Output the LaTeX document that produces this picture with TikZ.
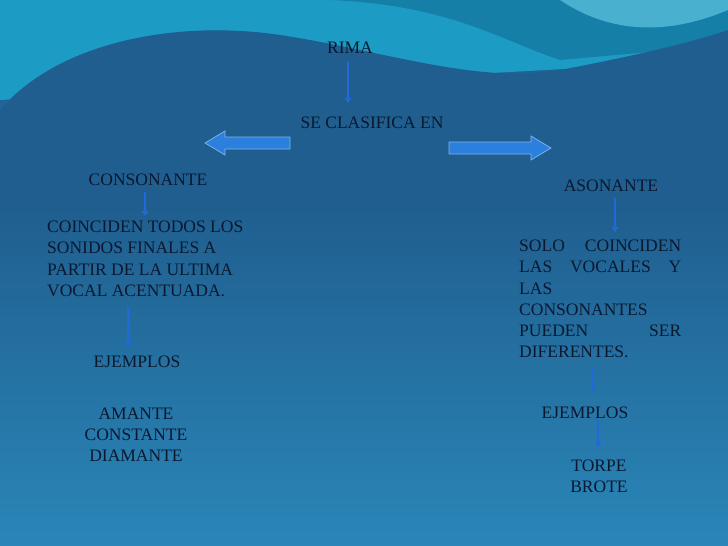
\documentclass[tikz,border=0pt]{standalone}
\usepackage{fontspec}
\setmainfont{Liberation Serif}
\usetikzlibrary{arrows.meta}
\definecolor{bgtop}{HTML}{1F5E8E}
\definecolor{bgbot}{HTML}{2A86B8}
\definecolor{teal1}{HTML}{1C9CC4}
\definecolor{teal2}{HTML}{157FA8}
\definecolor{ink}{HTML}{0A1830}
\definecolor{arr}{HTML}{1F6AD8}
\definecolor{blk}{HTML}{2A80DC}
\tikzset{x=1pt,y=-1pt,
  txt/.style={text=ink,font=\fontsize{17.5}{21.2}\selectfont,inner sep=0pt},
  va/.style={draw=arr,line width=2pt,-{Triangle[length=5pt,width=7pt]}},
  blockarrow/.style={fill=blk,draw=blk!60!white,line width=0.7pt}}
\newcommand{\jline}[1]{\makebox[162pt][s]{#1}}
\begin{document}
\begin{tikzpicture}
\useasboundingbox (0,0) rectangle (728,546);
\shade[top color=bgtop,bottom color=bgbot] (0,0) rectangle (728,546);
\fill[teal1] (0,0) -- (728,0) -- (728,60) -- (0,100) -- cycle;
\fill[teal2] (330,0) .. controls (450,5) and (500,40) .. (560,60) -- (728,45) -- (728,0) -- cycle;
\fill[teal1!80!white] (560,0) .. controls (620,40) and (680,30) .. (728,10) -- (728,0) -- cycle;
\fill[bgtop] (0,110) .. controls (60,40) and (180,20) .. (280,35) .. controls (380,50) and (480,85) .. (560,70) .. controls (640,55) and (700,40) .. (728,30) -- (728,546) -- (0,546) -- cycle;
\shade[top color=bgtop,bottom color=bgbot] (0,200) rectangle (728,546);
\fill[bgtop] (0,110) .. controls (40,150) and (600,150) .. (728,150) -- (728,201) -- (0,201) -- cycle;

\node[txt] (rima) at (350,48) {RIMA};
\node[txt] (clas) at (372,123) {SE CLASIFICA EN};
\node[txt] (cons) at (148,180) {CONSONANTE};
\node[txt] (ason) at (611,186) {ASONANTE};
\node[txt,anchor=north west,align=left] (cdesc) at (47,221) {COINCIDEN TODOS LOS\\SONIDOS FINALES A\\PARTIR DE LA ULTIMA\\VOCAL ACENTUADA.};
\node[txt,anchor=north west,align=left] (adesc) at (519,240) {\jline{SOLO\hfill COINCIDEN}\\\jline{LAS\hfill VOCALES\hfill Y}\\LAS\\CONSONANTES\\\jline{PUEDEN\hfill SER}\\DIFERENTES.};
\node[txt] (ej1) at (137,362) {EJEMPLOS};
\node[txt,align=center] (ex1) at (136,435) {AMANTE\\CONSTANTE\\DIAMANTE};
\node[txt] (ej2) at (585,413) {EJEMPLOS};
\node[txt,align=center] (ex2) at (599,476) {TORPE\\BROTE};

\draw[va] (348,62) -- (348,103);
\draw[va] (145,192) -- (145,216);
\draw[va,line width=3pt] (128,307) -- (128,347);
\draw[va] (615,198) -- (615,232);
\draw[va] (593,368) -- (593,392);
\draw[va] (598,420) -- (598,447);

\draw[blockarrow] (290,137) -- (225,137) -- (225,131) -- (205,143) -- (225,155) -- (225,149) -- (290,149) -- cycle;
\draw[blockarrow] (449,142) -- (531,142) -- (531,136) -- (551,148) -- (531,160) -- (531,154) -- (449,154) -- cycle;
\end{tikzpicture}
\end{document}
